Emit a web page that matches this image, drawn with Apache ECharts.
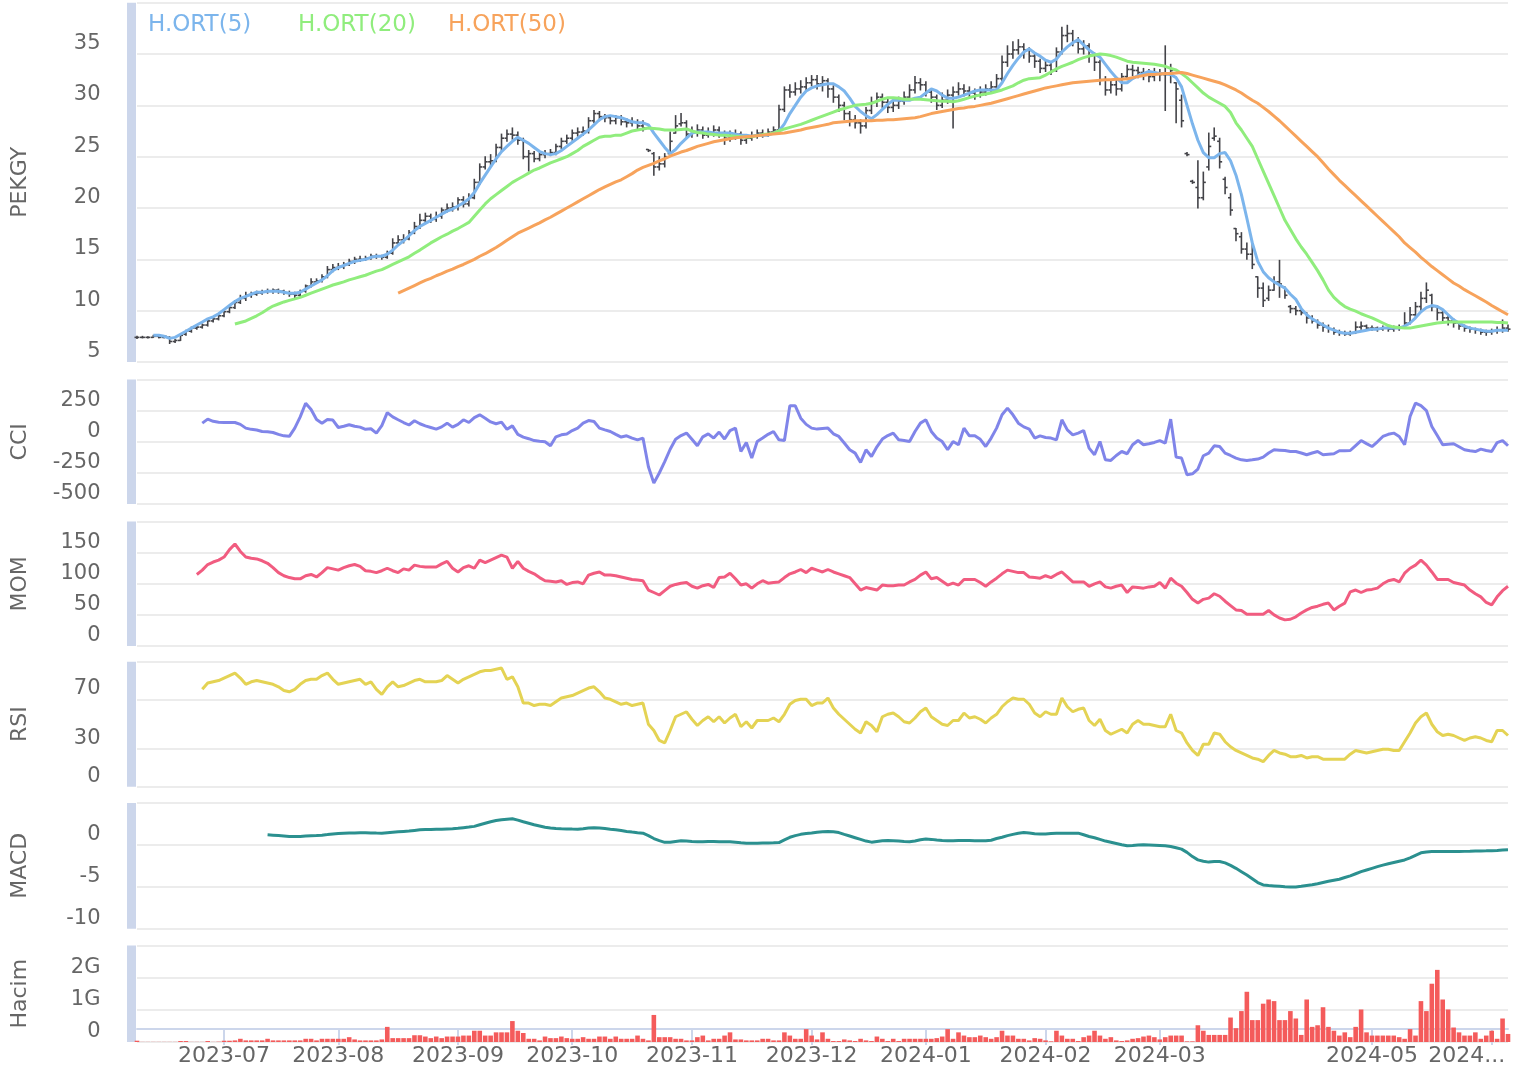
<!DOCTYPE html>
<html>
<head>
<meta charset="utf-8">
<title>PEKGY</title>
<script src="https://cdn.jsdelivr.net/npm/echarts@6/dist/echarts.min.js"></script>
<style>
  html, body { margin: 0; padding: 0; background: #fff; }
  #main { width: 1515px; height: 1073px; }
</style>
</head>
<body>
<div id="main"></div>
<script>
// trading days (BIST), holidays taken out
const firstDay = '2023-06-06';
const lastDay = '2024-06-06';
const holidays = ['2023-06-28', '2023-06-29', '2023-06-30', '2023-08-30', '2024-01-01',
  '2024-04-10', '2024-04-11', '2024-04-12', '2024-04-23', '2024-05-01'];
const hiddenMonths = ['2024-04'];

const opens = [
  7.4,7.4,7.4,7.4,7.5,7.4,7.4,7.0,7.1,7.7, 8.0,8.3,8.4,8.6,9.0,9.2,9.5,9.9,10.3,10.8,
  11.2,11.5,11.6,11.7,11.8,11.9,12.0,11.9,11.7,11.6, 11.5,11.9,12.4,12.8,12.9,13.3,14.0,14.2,14.3,14.5,
  14.8,15.0,15.0,15.1,15.3,15.3,15.2,15.6,16.6,16.9, 17.0,17.6,18.2,18.8,19.2,18.9,19.2,19.8,20.0,20.1,
  20.8,20.4,21.0,22.5,24.0,24.5,24.6,25.9,26.8,27.2, 27.1,26.6,25.0,25.3,24.8,25.2,25.3,25.4,26.0,26.5,
  26.8,27.3,27.4,27.5,28.5,29.2,28.9,28.8,28.5,28.8, 28.4,28.3,28.4,28.0,25.7,25.3,24.0,24.3,25.3,27.3,
  28.2,28.3,27.2,27.4,27.6,27.1,27.3,27.6,27.2,26.8, 27.0,27.2,26.6,26.8,27.0,27.3,27.2,27.4,27.6,29.6,
  31.5,31.3,31.6,31.8,32.2,32.5,32.1,32.4,31.6,30.8, 30.0,29.2,28.6,28.3,28.0,29.5,30.3,30.8,30.3,29.8,
  30.0,30.4,30.8,31.5,32.2,32.0,31.3,30.8,30.0,30.5, 31.0,31.3,31.6,31.4,31.2,31.0,31.3,31.6,31.8,32.6,
  34.2,35.0,35.4,35.7,35.4,34.8,34.3,33.6,33.9,33.4, 35.2,36.8,37.0,36.2,35.5,35.8,34.9,34.2,32.5,31.5,
  32.0,31.6,32.8,33.5,33.4,33.2,33.0,32.8,33.1,33.0, 33.0,32.2,30.5,25.3,22.6,22.0,21.0,24.0,26.8,26.5,
  22.8,21.0,18.0,17.2,16.0,15.5,13.3,12.2,11.2,12.0, 12.8,12.3,10.4,10.2,10.0,9.8,9.3,9.0,8.6,8.4,
  8.2,7.9,7.8,7.7,7.8,8.4,8.5,8.3,8.3,8.2, 8.3,8.2,8.3,8.4,8.8,9.6,10.4,11.2,11.5,10.4,
  9.8,9.3,9.0,8.8,8.5,8.3,8.2,8.1,7.9,7.9, 8.0,8.1,8.3
];
const highs = [
  7.5,7.5,7.45,7.6,7.55,7.55,7.45,7.2,7.7,8.1, 8.4,8.6,8.7,9.1,9.4,9.6,10.1,10.5,11.0,11.5,
  11.8,11.8,11.9,12.0,12.1,12.1,12.1,12.0,11.9,11.8, 12.0,12.5,13.1,13.1,13.5,14.3,14.5,14.6,14.7,15.0,
  15.2,15.3,15.3,15.5,15.5,15.4,15.8,17.0,17.3,17.4, 17.8,18.6,19.4,19.5,19.4,19.6,20.0,20.4,20.5,21.0,
  21.1,21.4,22.8,24.3,25.0,25.2,26.2,27.2,27.6,27.8, 27.4,26.8,25.6,25.5,25.4,25.6,25.7,26.2,26.8,27.1,
  27.6,27.8,27.9,28.8,29.5,29.4,29.1,29.0,29.0,29.0, 28.7,28.8,28.6,28.5,25.7,25.4,25.0,25.3,27.4,29.0,
  29.2,28.5,27.9,28.1,27.9,27.8,28.0,27.9,27.5,27.5, 27.6,27.4,27.1,27.4,27.6,27.6,27.7,27.9,30.0,31.8,
  32.0,32.2,32.4,32.7,32.9,32.9,32.8,32.6,31.9,31.0, 30.3,29.4,29.0,28.6,29.8,30.8,31.2,31.1,30.6,30.5,
  30.8,31.3,32.0,32.8,32.6,32.3,31.6,31.0,31.2,31.5, 31.8,32.2,32.0,31.8,31.6,31.8,32.0,32.3,33.0,34.8,
  35.8,36.2,36.4,36.0,35.6,35.0,34.5,34.4,34.2,35.6, 37.6,37.8,37.3,36.6,36.3,36.0,35.1,34.4,32.8,32.5,
  32.4,33.1,33.9,33.9,33.7,33.6,33.5,33.6,33.5,35.8, 34.0,32.2,31.0,25.4,22.7,24.6,23.5,27.3,27.8,26.8,
  23.0,21.4,18.0,17.6,16.6,16.6,13.3,12.7,12.4,13.3, 14.9,12.3,10.5,10.4,10.2,9.8,9.5,9.1,8.8,8.6,
  8.3,8.1,8.0,8.0,8.9,8.9,8.6,8.5,8.4,8.5, 8.4,8.5,8.6,9.8,10.3,10.8,11.8,12.7,11.6,10.5,
  10.0,9.5,9.2,8.9,8.6,8.4,8.3,8.2,8.1,8.2, 8.4,9.1,8.6
];
const lows = [
  7.3,7.35,7.35,7.4,7.35,7.35,6.8,6.9,7.1,7.6, 7.9,8.2,8.3,8.5,8.9,9.1,9.4,9.8,10.2,10.7,
  11.0,11.3,11.5,11.6,11.7,11.7,11.7,11.6,11.4,11.2, 11.4,11.8,12.3,12.7,12.8,13.2,13.8,14.0,14.1,14.4,
  14.6,14.8,14.9,15.0,15.1,15.0,15.1,15.5,16.4,16.6, 16.9,17.5,18.0,18.5,18.6,18.7,19.0,19.6,19.7,19.8,
  20.1,20.2,20.9,22.3,23.8,24.1,24.5,25.6,26.5,26.7, 26.2,24.8,23.6,24.5,24.6,24.9,25.1,25.2,25.8,26.3,
  26.6,27.0,27.1,27.3,28.3,28.5,28.4,28.2,28.2,28.1, 27.9,28.0,27.6,27.5,25.5,23.2,23.7,24.0,25.3,27.3,
  28.0,26.8,26.9,27.0,26.8,26.9,27.0,26.9,26.2,26.5, 26.7,26.2,26.3,26.6,26.8,26.9,27.0,27.2,27.5,29.4,
  30.8,31.0,31.2,31.5,31.9,31.6,31.4,30.8,30.3,29.4, 28.6,28.0,27.8,27.3,27.8,29.2,29.9,29.8,29.3,29.4,
  29.7,30.1,30.5,31.2,31.5,30.9,30.3,29.6,29.8,30.2, 27.8,31.0,30.9,30.8,30.6,30.8,31.0,31.3,31.5,32.4,
  33.8,34.6,35.0,34.6,34.2,33.7,33.2,33.3,33.0,33.3, 35.0,36.2,35.8,35.1,35.0,34.2,33.4,32.0,31.0,31.2,
  31.0,31.4,32.5,32.9,32.7,32.5,32.3,32.4,32.4,29.5, 32.2,28.3,27.9,25.1,22.4,20.0,20.8,23.7,26.6,23.9,
  21.4,19.3,16.8,15.6,15.0,14.1,11.3,10.4,11.0,12.0, 11.3,11.2,9.8,9.6,9.6,8.8,8.8,8.3,8.0,7.9,
  7.7,7.6,7.6,7.6,7.8,8.2,8.1,8.1,8.0,8.1, 8.0,8.0,8.1,8.3,8.7,9.4,9.9,10.8,10.0,9.1,
  8.9,8.6,8.4,8.2,8.0,7.9,7.8,7.7,7.6,7.7, 7.8,7.9,8.0
];
const closes = [
  7.4,7.4,7.4,7.5,7.4,7.5,7.0,7.1,7.6,8.0, 8.3,8.4,8.6,9.0,9.2,9.5,9.9,10.3,10.8,11.2,
  11.5,11.6,11.7,11.8,11.9,12.0,11.9,11.7,11.6,11.5, 11.9,12.4,12.8,12.9,13.3,14.0,14.2,14.3,14.5,14.8,
  15.0,15.0,15.1,15.3,15.3,15.2,15.6,16.6,16.9,17.0, 17.6,18.2,18.8,19.2,18.9,19.2,19.8,20.0,20.1,20.8,
  20.4,21.0,22.5,24.0,24.5,24.6,25.9,26.8,27.2,27.1, 26.6,25.0,25.3,24.8,25.2,25.3,25.4,26.0,26.5,26.8,
  27.3,27.4,27.5,28.5,29.2,28.9,28.8,28.5,28.8,28.4, 28.3,28.4,28.0,27.8,25.6,24.0,24.3,25.0,26.5,28.0,
  28.3,27.2,27.4,27.6,27.1,27.3,27.6,27.2,26.8,27.0, 27.2,26.6,26.8,27.0,27.3,27.2,27.4,27.6,29.6,31.5,
  31.3,31.6,31.8,32.2,32.5,32.1,32.4,31.6,30.8,30.0, 29.2,28.6,28.3,28.0,29.5,30.3,30.8,30.3,29.8,30.0,
  30.4,30.8,31.5,32.2,32.0,31.3,30.8,30.0,30.5,31.0, 31.3,31.6,31.4,31.2,31.0,31.3,31.6,31.8,32.6,34.2,
  35.0,35.4,35.7,35.4,34.8,34.3,33.6,33.9,33.4,35.2, 36.8,37.0,36.2,35.5,35.8,34.9,34.2,32.5,31.5,32.0,
  31.6,32.8,33.5,33.4,33.2,33.0,32.8,33.1,33.0,33.0, 33.4,31.6,28.5,25.2,22.5,21.0,22.5,26.0,27.0,24.5,
  22.0,19.8,17.5,16.0,15.5,14.5,12.2,11.0,12.0,12.8, 12.6,11.5,10.2,10.0,9.8,9.3,9.0,8.6,8.4,8.2,
  7.9,7.8,7.7,7.8,8.4,8.5,8.3,8.3,8.2,8.3, 8.2,8.3,8.4,8.8,9.6,10.4,11.2,12.0,10.4,9.8,
  9.3,9.0,8.8,8.5,8.3,8.2,8.1,7.9,7.9,8.0, 8.1,8.3,8.2
];

// H.ORT(5), starts at day 3
const ma5 = [
  7.6,7.6,7.5,7.3,7.4,7.7,8.0,
  8.3,8.6,8.9,9.2,9.4,9.7,10.1,10.5,10.9,11.2, 11.4,11.6,11.8,11.8,11.9,11.9,11.9,11.8,11.7,11.7,
  11.8,12.1,12.4,12.7,13.0,13.4,13.9,14.2,14.4,14.6, 14.8,14.9,15.0,15.2,15.3,15.3,15.5,15.9,16.4,16.8,
  17.3,17.8,18.2,18.5,18.8,19.1,19.4,19.7,19.9,20.2, 20.5,20.9,21.5,22.4,23.2,24.0,24.8,25.5,26.0,26.5,
  26.9,26.6,26.3,25.9,25.5,25.3,25.2,25.3,25.6,26.0, 26.4,26.8,27.2,27.6,28.1,28.6,28.9,29.0,28.9,28.8,
  28.6,28.4,28.3,28.3,28.1,27.3,26.6,25.9,25.3,25.7, 26.3,26.8,27.3,27.4,27.4,27.4,27.3,27.3,27.3,27.3,
  27.2,27.1,27.1,27.0,27.1,27.1,27.1,27.3,27.5,28.2, 29.2,30.0,30.8,31.4,31.7,31.9,32.0,32.1,32.1,31.8,
  31.4,30.7,29.9,29.4,29.0,28.7,29.1,29.6,30.1,30.5, 30.5,30.5,30.5,30.7,30.8,31.2,31.6,31.4,31.0,30.7,
  30.7,30.8,31.0,31.2,31.4,31.5,31.5,31.5,31.5,32.2, 33.1,33.9,34.6,35.2,35.5,35.1,34.8,34.4,34.2,34.5,
  35.2,35.7,36.1,36.4,35.9,35.4,35.0,34.7,34.0,33.3, 32.7,32.2,32.2,32.6,32.9,33.1,33.3,33.2,33.1,33.1,
  33.0,32.7,31.8,30.0,28.2,26.6,25.4,24.9,24.9,25.3, 25.4,24.6,23.2,21.3,19.0,16.6,14.8,13.8,13.2,12.8,
  12.5,12.2,11.6,11.1,10.2,9.6,9.2,8.9,8.6,8.3, 8.1,7.9,7.8,7.8,7.9,8.0,8.1,8.2,8.2,8.3,
  8.3,8.3,8.3,8.5,8.8,9.3,9.9,10.3,10.5,10.4, 10.1,9.6,9.1,8.8,8.5,8.3,8.2,8.1,8.0,8.0,
  8.1,8.1,8.1
];
// H.ORT(20), starts at day 18
const ma20 = [
  8.7,8.85,
  9.0,9.25,9.5,9.8,10.15,10.45,10.65,10.85,11.0,11.15, 11.3,11.5,11.7,11.9,12.1,12.3,12.5,12.65,12.8,13.0,
  13.15,13.3,13.45,13.65,13.85,14.0,14.25,14.5,14.75,15.0, 15.25,15.6,15.9,16.25,16.6,16.9,17.2,17.45,17.75,18.0,
  18.3,18.6,19.2,19.8,20.4,20.9,21.3,21.7,22.1,22.5, 22.8,23.1,23.4,23.7,23.9,24.15,24.4,24.6,24.8,25.0,
  25.3,25.6,26.0,26.3,26.6,26.9,27.0,27.0,27.1,27.1, 27.3,27.5,27.6,27.7,27.8,27.75,27.7,27.6,27.6,27.6,
  27.65,27.7,27.5,27.35,27.3,27.2,27.15,27.1,27.1,27.05, 27.0,26.95,26.9,26.95,27.05,27.15,27.2,27.3,27.5,27.7,
  27.85,28.0,28.15,28.35,28.55,28.75,28.95,29.15,29.35,29.55, 29.7,29.85,30.0,30.05,30.1,30.2,30.4,30.6,30.75,30.75,
  30.7,30.6,30.6,30.6,30.6,30.55,30.5,30.45,30.4,30.4, 30.35,30.45,30.6,30.75,30.9,31.0,31.1,31.2,31.35,31.5,
  31.7,31.9,32.2,32.45,32.6,32.65,32.7,32.95,33.25,33.55, 33.8,34.0,34.2,34.45,34.65,34.8,34.9,35.0,34.95,34.85,
  34.7,34.5,34.3,34.2,34.15,34.1,34.05,34.0,33.9,33.8, 33.6,33.45,33.1,32.7,32.2,31.7,31.2,30.8,30.5,30.2,
  29.9,29.3,28.3,27.6,26.8,26.0,24.8,23.6,22.4,21.2, 20.0,18.8,17.9,17.0,16.2,15.5,14.7,13.9,13.0,12.0,
  11.3,10.8,10.4,10.15,9.95,9.7,9.5,9.3,9.05,8.8, 8.55,8.4,8.35,8.3,8.3,8.4,8.5,8.6,8.7,8.8,
  8.85,8.9,8.9,8.9,8.9,8.9,8.9,8.9,8.9,8.9, 8.85,8.85,8.8
];
// H.ORT(50), starts at day 48
const ma50 = [
  11.7,11.95,
  12.2,12.45,12.7,12.95,13.15,13.4,13.6,13.85,14.05,14.3, 14.5,14.75,15.0,15.3,15.55,15.85,16.15,16.5,16.85,17.2,
  17.55,17.8,18.05,18.3,18.55,18.85,19.1,19.4,19.7,20.0, 20.3,20.6,20.9,21.2,21.5,21.8,22.05,22.3,22.55,22.75,
  23.05,23.35,23.7,23.95,24.15,24.35,24.6,24.8,25.05,25.25, 25.45,25.6,25.8,26.0,26.15,26.3,26.45,26.55,26.65,26.75,
  26.85,26.9,26.95,27.0,27.05,27.1,27.15,27.2,27.25,27.3, 27.4,27.5,27.6,27.75,27.85,27.95,28.05,28.15,28.3,28.35,
  28.4,28.45,28.5,28.5,28.5,28.5,28.55,28.55,28.6,28.6, 28.65,28.7,28.75,28.8,28.9,29.05,29.2,29.3,29.4,29.5,
  29.6,29.7,29.75,29.85,29.9,30.0,30.1,30.2,30.35,30.5, 30.65,30.8,30.95,31.1,31.25,31.4,31.55,31.7,31.8,31.9,
  32.0,32.1,32.2,32.25,32.3,32.35,32.4,32.45,32.5,32.5, 32.55,32.55,32.6,32.7,32.8,32.9,33.0,33.0,33.05,33.1,
  33.1,33.15,33.2,33.1,32.95,32.8,32.65,32.5,32.35,32.2, 32.0,31.75,31.5,31.2,30.85,30.5,30.2,29.8,29.4,28.95,
  28.5,28.0,27.5,27.0,26.5,26.0,25.5,25.0,24.4,23.8, 23.25,22.7,22.2,21.7,21.2,20.7,20.2,19.7,19.2,18.7,
  18.2,17.7,17.2,16.6,16.15,15.7,15.2,14.75,14.3,13.9, 13.5,13.1,12.7,12.4,12.05,11.75,11.45,11.15,10.85,10.5,
  10.2,9.9,9.6
];
// CCI, starts at day 12
const cci = [
  150,182,165,158,155,155,155,140,
  110,100,95,83,80,75,60,48,44,110, 200,310,260,180,150,180,175,115,125,137,
  125,118,100,105,70,130,235,200,177,155, 135,169,145,128,115,102,120,150,118,140,
  177,155,195,217,190,160,145,158,100,128, 60,38,25,10,5,0,-32,40,56,62,
  90,110,150,171,163,110,96,83,60,38, 48,30,16,30,-200,-332,-251,-160,-60,20,
  50,70,20,-32,40,64,30,78,22,90, 110,-78,-6,-131,2,30,60,83,16,10,
  289,289,190,140,110,102,106,110,64,43, -10,-64,-91,-166,-64,-118,-40,22,50,70,
  16,10,2,83,150,177,83,30,2,-64, 2,-24,110,48,48,20,-38,30,110,217,
  271,217,150,120,102,30,48,35,30,16, 177,96,56,70,91,-51,-104,2,-145,-150,
  -110,-78,-96,-24,10,-24,-16,-5,10,-10, 182,-123,-131,-265,-257,-219,-112,-91,-32,-38,
  -91,-110,-131,-145,-150,-145,-139,-123,-90,-64, -67,-70,-78,-78,-90,-104,-90,-78,-104,-100,
  -96,-72,-71,-70,-30,10,-15,-38,0,43, 60,70,43,-24,203,311,290,251,123,50,
  -24,-20,-16,-40,-64,-72,-78,-59,-70,-78, -6,10,-32
];
// MOM, starts at day 11
const mom = [
  115,122,131,135,138,143,155,164,152,
  143,141,140,137,133,126,118,113,110,108, 108,113,115,111,118,126,124,122,126,129,
  131,128,121,120,118,121,125,121,118,124, 122,130,128,127,127,127,132,136,125,119,
  126,129,125,138,134,138,142,146,143,125, 136,125,120,116,110,105,104,103,105,99,
  102,103,100,114,117,119,114,114,113,111, 109,107,106,105,90,86,82,89,96,99,
  101,102,96,93,97,99,94,110,111,117, 108,98,100,93,100,105,101,102,103,110,
  116,119,123,118,125,122,119,123,119,116, 113,110,100,90,94,92,90,98,97,97,
  98,98,103,107,114,119,108,110,104,98, 101,98,107,107,107,102,96,103,109,116,
  122,120,118,118,111,110,109,113,110,115, 119,111,103,103,103,96,100,103,95,93,
  96,98,86,95,94,93,95,96,102,93, 109,101,96,86,75,69,75,77,84,80,
  72,65,58,57,51,51,51,51,57,50, 45,42,43,47,53,58,62,64,67,69,
  58,64,69,87,90,86,90,91,93,100, 105,107,103,117,125,130,138,130,119,107,
  107,107,102,100,98,90,84,79,70,66, 79,89,96
];
// RSI, starts at day 12
const rsi = [
  78,83,84,85,87,89,91,87,
  82,84,85,84,83,82,80,77,76,78, 82,85,86,86,89,91,86,82,83,84,
  85,86,82,84,78,74,80,84,80,81, 83,85,86,84,84,84,85,89,86,83,
  86,88,90,92,93,93,94,95,86,88, 80,67,67,65,66,66,65,68,71,72,
  73,75,77,79,80,76,71,70,68,66, 67,65,66,67,50,45,37,35,45,56,
  58,60,54,49,53,56,52,56,51,55, 58,48,52,47,53,53,53,55,52,58,
  66,69,70,70,65,67,67,71,63,58, 54,50,46,43,52,49,44,56,58,59,
  56,52,51,55,60,63,56,53,50,49, 53,53,59,55,56,54,51,55,58,64,
  68,71,70,70,66,59,56,60,58,58, 71,64,60,62,63,53,49,54,45,42,
  44,46,43,50,53,50,50,49,48,48, 58,45,43,35,29,25,34,34,43,42,
  36,32,29,27,25,23,22,20,25,29, 27,26,24,24,25,23,24,24,22,22,
  22,22,22,26,29,28,27,28,29,30, 30,29,29,36,43,51,56,59,50,44,
  41,42,41,39,37,39,40,39,37,36, 45,45,41
];
// MACD, starts at day 24
const macd = [
  1.2,1.15,1.1,1.05,1.0,1.0,
  1.0,1.05,1.08,1.1,1.15,1.22,1.3,1.35,1.38,1.4, 1.42,1.43,1.43,1.42,1.4,1.39,1.45,1.5,1.55,1.6,
  1.65,1.72,1.79,1.82,1.84,1.86,1.87,1.9,1.93,1.97, 2.05,2.12,2.2,2.4,2.58,2.75,2.9,3.0,3.05,3.1,
  2.95,2.75,2.58,2.4,2.25,2.1,2.0,1.95,1.92,1.9, 1.88,1.87,1.92,2.0,2.05,2.02,1.95,1.85,1.79,1.7,
  1.6,1.52,1.45,1.39,1.1,0.75,0.5,0.3,0.3,0.4, 0.48,0.45,0.4,0.36,0.38,0.4,0.39,0.38,0.37,0.36,
  0.3,0.24,0.2,0.2,0.2,0.21,0.22,0.24,0.27,0.6, 0.9,1.1,1.25,1.35,1.42,1.5,1.55,1.58,1.55,1.46,
  1.25,1.05,0.85,0.65,0.45,0.32,0.4,0.48,0.51,0.5, 0.45,0.4,0.36,0.45,0.6,0.7,0.65,0.58,0.52,0.48,
  0.5,0.51,0.51,0.51,0.5,0.49,0.48,0.55,0.75,0.9, 1.1,1.25,1.38,1.46,1.4,1.33,1.28,1.3,1.35,1.39,
  1.39,1.39,1.39,1.39,1.2,1.0,0.85,0.65,0.45,0.3, 0.15,0.0,-0.12,-0.08,-0.03,0.0,-0.02,-0.05,-0.08,-0.12,
  -0.2,-0.35,-0.51,-0.9,-1.4,-1.79,-1.95,-2.06,-2.0,-1.98, -2.15,-2.45,-2.8,-3.2,-3.6,-4.05,-4.5,-4.78,-4.85,-4.9,
  -4.95,-5.0,-5.04,-5.02,-4.95,-4.85,-4.76,-4.65,-4.5,-4.35, -4.22,-4.1,-3.9,-3.7,-3.45,-3.2,-3.0,-2.8,-2.6,-2.42,
  -2.25,-2.1,-1.95,-1.8,-1.55,-1.25,-0.95,-0.85,-0.8,-0.8, -0.8,-0.8,-0.8,-0.8,-0.78,-0.77,-0.75,-0.73,-0.72,-0.7,
  -0.67,-0.63,-0.6
];
// Hacim, in G
const volume = [
  0.04,0.004,0.004,0.004,0.004,0.004,0.004,0.004,0.03,0.03, 0.004,0.004,0.004,0.03,0.004,0.01,0.04,0.04,0.05,0.1,
  0.05,0.05,0.05,0.05,0.1,0.05,0.05,0.05,0.05,0.05, 0.05,0.1,0.1,0.05,0.1,0.1,0.1,0.1,0.1,0.15,
  0.08,0.05,0.05,0.05,0.05,0.08,0.47,0.12,0.12,0.12, 0.12,0.21,0.21,0.17,0.12,0.17,0.12,0.17,0.17,0.17,
  0.2,0.2,0.35,0.35,0.2,0.2,0.3,0.3,0.3,0.65, 0.35,0.28,0.1,0.1,0.05,0.17,0.12,0.12,0.17,0.12,
  0.1,0.1,0.15,0.1,0.1,0.17,0.17,0.1,0.17,0.1, 0.1,0.1,0.2,0.1,0.05,0.84,0.15,0.15,0.15,0.1,
  0.1,0.05,0.05,0.15,0.2,0.05,0.1,0.1,0.2,0.3, 0.08,0.08,0.05,0.05,0.05,0.1,0.1,0.05,0.05,0.3,
  0.2,0.1,0.1,0.4,0.2,0.08,0.3,0.1,0.03,0.03, 0.08,0.05,0.03,0.1,0.05,0.03,0.17,0.1,0.03,0.1,
  0.03,0.1,0.1,0.1,0.1,0.1,0.1,0.12,0.17,0.4, 0.1,0.3,0.2,0.15,0.15,0.2,0.15,0.1,0.15,0.35,
  0.2,0.2,0.1,0.1,0.05,0.12,0.1,0.05,0.02,0.35, 0.2,0.1,0.1,0.03,0.15,0.2,0.35,0.2,0.1,0.15,
  0.05,0.03,0.05,0.1,0.12,0.17,0.2,0.15,0.08,0.15, 0.2,0.2,0.2,0.02,0.02,0.52,0.35,0.22,0.22,0.22,
  0.22,0.76,0.43,0.96,1.56,0.68,0.68,1.19,1.32,1.27, 0.68,0.68,0.96,0.73,0.22,1.32,0.47,0.52,1.08,0.47,
  0.35,0.2,0.3,0.15,0.47,1.01,0.3,0.2,0.2,0.2, 0.2,0.2,0.15,0.1,0.4,0.2,1.27,0.96,1.81,2.24,
  1.32,1.01,0.45,0.3,0.2,0.2,0.3,0.1,0.2,0.35, 0.1,0.73,0.25
];

const FONT = 'DejaVu Sans';
const LABEL = '#666666';

const dates = [];
for (let d = new Date(firstDay + 'T00:00:00Z'); d <= new Date(lastDay + 'T00:00:00Z'); d.setUTCDate(d.getUTCDate() + 1)) {
  const s = d.toISOString().slice(0, 10);
  const wd = d.getUTCDay();
  if (wd !== 0 && wd !== 6 && holidays.indexOf(s) < 0) dates.push(s);
}
const lead = (n, arr) => new Array(n).fill(null).concat(arr);

const ohlcData = closes.map((c, i) => [i, opens[i], c, lows[i], highs[i]]);

// month ticks: first trading day of each month
function monthStart(i) {
  if (i === 0) return false;
  const m = dates[i].slice(0, 7);
  return m !== dates[i - 1].slice(0, 7) && hiddenMonths.indexOf(m) < 0;
}

function renderOhlc(params, api) {
  const i = api.value(0);
  const x = api.coord([i, api.value(1)])[0];
  const yo = api.coord([i, api.value(1)])[1];
  const yc = api.coord([i, api.value(2)])[1];
  const yl = api.coord([i, api.value(3)])[1];
  const yh = api.coord([i, api.value(4)])[1];
  const style = { stroke: '#434348', lineWidth: 1.6 };
  return {
    type: 'group',
    children: [
      { type: 'line', shape: { x1: x, y1: yh - 0.5, x2: x, y2: yl + 0.5 }, style },
      { type: 'line', shape: { x1: x - 2.5, y1: yo, x2: x, y2: yo }, style },
      { type: 'line', shape: { x1: x, y1: yc, x2: x + 2.5, y2: yc }, style }
    ]
  };
}

const panes = [
  { top: 2.7, height: 359.3 },
  { top: 379.6, height: 124.4 },
  { top: 521.6, height: 124.4 },
  { top: 661.8, height: 124.9 },
  { top: 802.9, height: 125.8 },
  { top: 945.4, height: 96.6 }
];

function yAxis(gridIndex, name, min, max, interval, extra) {
  return Object.assign({
    gridIndex, name, min, max, interval,
    type: 'value',
    offset: 5.5,
    nameLocation: 'middle',
    nameRotate: 90,
    nameGap: 100,
    nameTextStyle: { color: LABEL, fontSize: 22, fontFamily: FONT },
    axisLine: { show: true, lineStyle: { color: '#ccd6eb', width: 9, cap: 'butt' } },
    axisTick: { show: false },
    splitLine: { show: true, lineStyle: { color: '#e6e6e6', width: 1.5 } },
    axisLabel: {
      color: LABEL, fontSize: 21, fontFamily: FONT, margin: 31,
      verticalAlign: 'bottom', showMaxLabel: false
    }
  }, extra || {});
}

const xAxes = panes.map((p, k) => ({
  gridIndex: k,
  type: 'category',
  data: dates,
  boundaryGap: false,
  show: k === 5,
  offset: k === 5 ? -13 : 0,
  axisLine: { lineStyle: { color: '#ccd6eb', width: 2 } },
  axisTick: { show: true, length: 16, interval: monthStart, lineStyle: { color: '#ccd6eb', width: 2 } },
  axisLabel: {
    interval: monthStart,
    margin: 16,
    color: LABEL, fontSize: 22, fontFamily: FONT,
    formatter: v => v.slice(0, 7) === '2024-06' ? '{cut|2024...}' : v.slice(0, 7),
    rich: { cut: { color: LABEL, fontSize: 22, fontFamily: FONT, padding: [0, 50, 0, 0] } }
  },
  splitLine: { show: false }
}));

const lineSeries = (name, data, color, k) => ({
  name, type: 'line', data, xAxisIndex: k, yAxisIndex: k,
  symbol: 'none', silent: true, z: 3,
  lineStyle: { color, width: 3 },
  itemStyle: { color }
});

// one legend per item, Highcharts-like fixed item width
const legendItems = [
  { name: 'H.ORT(5)', color: '#7cb5ec', left: 143 },
  { name: 'H.ORT(20)', color: '#90ed7d', left: 293 },
  { name: 'H.ORT(50)', color: '#f7a35c', left: 443 }
];

const chart = echarts.init(document.getElementById('main'));
chart.setOption({
  animation: false,
  backgroundColor: '#ffffff',
  textStyle: { fontFamily: FONT },
  legend: legendItems.map(it => ({
    left: it.left, top: 11, padding: 0,
    icon: 'none', itemWidth: 0, itemHeight: 28,
    selectedMode: false,
    textStyle: { fontSize: 23, fontFamily: FONT, color: it.color },
    data: [it.name]
  })),
  grid: panes.map(p => ({ left: 137, right: 7, top: p.top, height: p.height })),
  xAxis: xAxes,
  yAxis: [
    yAxis(0, 'PEKGY', 5, 40, 5),
    yAxis(1, 'CCI', -500, 500, 250),
    yAxis(2, 'MOM', 0, 200, 50),
    yAxis(3, 'RSI', 0, 100, 10, {
      axisTick: { show: false, customValues: [0, 30, 70, 100] },
      axisLabel: {
        color: LABEL, fontSize: 21, fontFamily: FONT, margin: 31,
        verticalAlign: 'bottom', customValues: [0, 30, 70]
      }
    }),
    yAxis(4, 'MACD', -10, 5, 5),
    yAxis(5, 'Hacim', 0, 3, 1, {
      axisLabel: {
        color: LABEL, fontSize: 21, fontFamily: FONT, margin: 31,
        verticalAlign: 'bottom', showMaxLabel: false,
        formatter: v => v === 0 ? '0' : v + 'G'
      }
    })
  ],
  series: [
    {
      name: 'PEKGY', type: 'custom', xAxisIndex: 0, yAxisIndex: 0,
      renderItem: renderOhlc, data: ohlcData, silent: true, z: 2,
      encode: { x: 0, y: [1, 2, 3, 4] }
    },
    lineSeries('H.ORT(5)', lead(3, ma5), '#7cb5ec', 0),
    lineSeries('H.ORT(20)', lead(18, ma20), '#90ed7d', 0),
    lineSeries('H.ORT(50)', lead(48, ma50), '#f7a35c', 0),
    lineSeries('CCI', lead(12, cci), '#8085e9', 1),
    lineSeries('MOM', lead(11, mom), '#f15c80', 2),
    lineSeries('RSI', lead(12, rsi), '#e4d354', 3),
    lineSeries('MACD', lead(24, macd), '#2b908f', 4),
    {
      name: 'Hacim', type: 'bar', xAxisIndex: 5, yAxisIndex: 5,
      data: volume, barWidth: 4.6, silent: true,
      itemStyle: { color: '#f45b5b' }
    }
  ]
});
</script>
</body>
</html>
